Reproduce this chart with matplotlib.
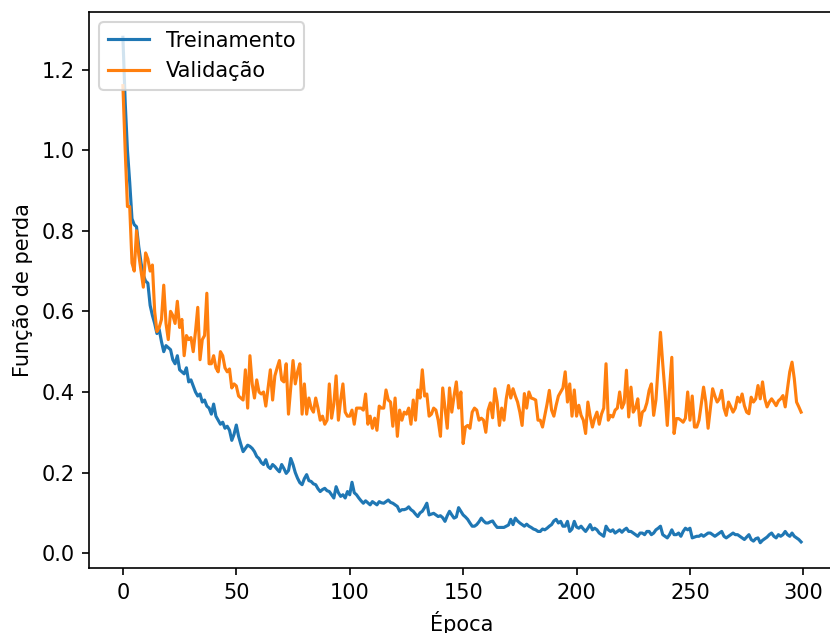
import numpy as np
import matplotlib
matplotlib.use('Agg')
import matplotlib.pyplot as plt

# perda por epoca
treino = [
    1.28, 1.12, 1.00, 0.92, 0.83, 0.815, 0.81, 0.76, 0.72, 0.69,
    0.675, 0.67, 0.615, 0.59, 0.57, 0.545, 0.555, 0.525, 0.50, 0.515,
    0.51, 0.505, 0.48, 0.47, 0.49, 0.455, 0.45, 0.445, 0.46, 0.425,
    0.43, 0.415, 0.40, 0.39, 0.395, 0.375, 0.38, 0.365, 0.36, 0.345,
    0.37, 0.34, 0.33, 0.32, 0.325, 0.31, 0.315, 0.305, 0.28, 0.295,
    0.318, 0.29, 0.27, 0.252, 0.26, 0.268, 0.265, 0.26, 0.252, 0.24,
    0.235, 0.225, 0.22, 0.232, 0.215, 0.21, 0.22, 0.215, 0.208, 0.202,
    0.22, 0.21, 0.198, 0.205, 0.235, 0.22, 0.20, 0.186, 0.175, 0.17,
    0.185, 0.195, 0.18, 0.178, 0.172, 0.17, 0.16, 0.153, 0.158, 0.161,
    0.155, 0.153, 0.145, 0.137, 0.165, 0.15, 0.141, 0.145, 0.137, 0.153,
    0.145, 0.176, 0.15, 0.145, 0.137, 0.13, 0.124, 0.13, 0.125, 0.12,
    0.128, 0.124, 0.12, 0.128, 0.125, 0.124, 0.128, 0.132, 0.126, 0.124,
    0.12, 0.116, 0.104, 0.108, 0.108, 0.11, 0.115, 0.108, 0.104, 0.097,
    0.091, 0.10, 0.104, 0.113, 0.124, 0.095, 0.097, 0.099, 0.095, 0.091,
    0.093, 0.088, 0.079, 0.093, 0.104, 0.095, 0.087, 0.09, 0.113, 0.104,
    0.095, 0.09, 0.084, 0.075, 0.067, 0.067, 0.071, 0.078, 0.087, 0.08,
    0.075, 0.075, 0.078, 0.08, 0.071, 0.064, 0.064, 0.064, 0.064, 0.067,
    0.07, 0.084, 0.071, 0.087, 0.08, 0.075, 0.071, 0.067, 0.072, 0.067,
    0.064, 0.06, 0.058, 0.054, 0.054, 0.06, 0.058, 0.062, 0.067, 0.071,
    0.08, 0.084, 0.075, 0.079, 0.067, 0.067, 0.079, 0.054, 0.06, 0.079,
    0.065, 0.062, 0.067, 0.06, 0.054, 0.062, 0.071, 0.058, 0.062, 0.058,
    0.05, 0.046, 0.042, 0.067, 0.058, 0.054, 0.058, 0.05, 0.054, 0.058,
    0.052, 0.058, 0.062, 0.054, 0.054, 0.05, 0.046, 0.042, 0.05, 0.05,
    0.046, 0.054, 0.054, 0.046, 0.05, 0.058, 0.062, 0.067, 0.046, 0.042,
    0.038, 0.046, 0.058, 0.046, 0.046, 0.05, 0.042, 0.054, 0.062, 0.058,
    0.062, 0.038, 0.04, 0.042, 0.042, 0.046, 0.042, 0.046, 0.05, 0.05,
    0.046, 0.042, 0.046, 0.05, 0.054, 0.042, 0.038, 0.042, 0.046, 0.05,
    0.046, 0.046, 0.042, 0.038, 0.034, 0.04, 0.046, 0.034, 0.03, 0.036,
    0.038, 0.026, 0.032, 0.036, 0.04, 0.046, 0.05, 0.042, 0.038, 0.046,
    0.042, 0.046, 0.054, 0.046, 0.042, 0.05, 0.042, 0.038, 0.034, 0.028,
]

validacao = [
    1.16, 1.00, 0.86, 0.86, 0.72, 0.70, 0.80, 0.74, 0.70, 0.66,
    0.745, 0.73, 0.70, 0.715, 0.60, 0.55, 0.56, 0.58, 0.665, 0.57,
    0.53, 0.60, 0.59, 0.57, 0.625, 0.56, 0.58, 0.49, 0.54, 0.53,
    0.535, 0.50, 0.55, 0.61, 0.48, 0.53, 0.54, 0.645, 0.47, 0.47,
    0.49, 0.46, 0.45, 0.50, 0.49, 0.46, 0.45, 0.457, 0.41, 0.42,
    0.415, 0.39, 0.385, 0.38, 0.455, 0.36, 0.49, 0.42, 0.385, 0.43,
    0.40, 0.395, 0.40, 0.365, 0.41, 0.455, 0.38, 0.44, 0.46, 0.478,
    0.43, 0.425, 0.47, 0.345, 0.41, 0.478, 0.42, 0.45, 0.47, 0.345,
    0.42, 0.345, 0.385, 0.36, 0.35, 0.385, 0.36, 0.33, 0.34, 0.32,
    0.33, 0.42, 0.335, 0.37, 0.44, 0.33, 0.38, 0.42, 0.35, 0.34,
    0.34, 0.355, 0.32, 0.36, 0.36, 0.36, 0.355, 0.395, 0.32, 0.34,
    0.31, 0.335, 0.305, 0.365, 0.36, 0.36, 0.405, 0.38, 0.375, 0.315,
    0.385, 0.29, 0.355, 0.33, 0.35, 0.345, 0.36, 0.32, 0.38, 0.33,
    0.405, 0.385, 0.455, 0.39, 0.395, 0.34, 0.345, 0.36, 0.355, 0.33,
    0.29, 0.41, 0.36, 0.31, 0.41, 0.35, 0.39, 0.425, 0.36, 0.40,
    0.272, 0.313, 0.317, 0.31, 0.35, 0.36, 0.355, 0.33, 0.335, 0.33,
    0.30, 0.355, 0.373, 0.336, 0.408, 0.375, 0.317, 0.36, 0.33, 0.383,
    0.416, 0.385, 0.408, 0.39, 0.375, 0.35, 0.317, 0.396, 0.36, 0.40,
    0.385, 0.383, 0.38, 0.33, 0.33, 0.313, 0.342, 0.37, 0.404, 0.355,
    0.34, 0.367, 0.39, 0.40, 0.41, 0.45, 0.375, 0.42, 0.34, 0.405,
    0.34, 0.367, 0.342, 0.33, 0.297, 0.375, 0.34, 0.313, 0.335, 0.35,
    0.32, 0.345, 0.36, 0.47, 0.33, 0.342, 0.338, 0.355, 0.36, 0.40,
    0.36, 0.373, 0.454, 0.338, 0.412, 0.35, 0.36, 0.383, 0.317, 0.35,
    0.355, 0.373, 0.404, 0.42, 0.342, 0.38, 0.466, 0.548, 0.47, 0.40,
    0.317, 0.408, 0.486, 0.297, 0.334, 0.334, 0.33, 0.325, 0.335, 0.40,
    0.33, 0.39, 0.313, 0.313, 0.33, 0.37, 0.412, 0.375, 0.31, 0.36,
    0.408, 0.39, 0.375, 0.383, 0.404, 0.36, 0.342, 0.375, 0.363, 0.35,
    0.36, 0.387, 0.375, 0.395, 0.366, 0.35, 0.346, 0.387, 0.375, 0.383,
    0.416, 0.383, 0.425, 0.383, 0.363, 0.375, 0.383, 0.375, 0.366, 0.378,
    0.383, 0.391, 0.363, 0.408, 0.45, 0.474, 0.433, 0.375, 0.363, 0.35,
]

epocas = np.arange(len(treino))

fig = plt.figure(figsize=(830/150, 633/150), dpi=150)
# o original foi cortado na direita: eixo passa da borda da figura
ax = fig.add_axes([89/830, 65/633, 746/830, 556/633])
ax.plot(epocas, treino, label='Treinamento')
ax.plot(epocas, validacao, label='Validação')
ax.spines['right'].set_visible(False)
ax.set_xlabel('Época')
ax.set_ylabel('Função de perda')
ax.legend(loc='upper left')
fig.savefig('out.png', dpi=150)
plt.close()
